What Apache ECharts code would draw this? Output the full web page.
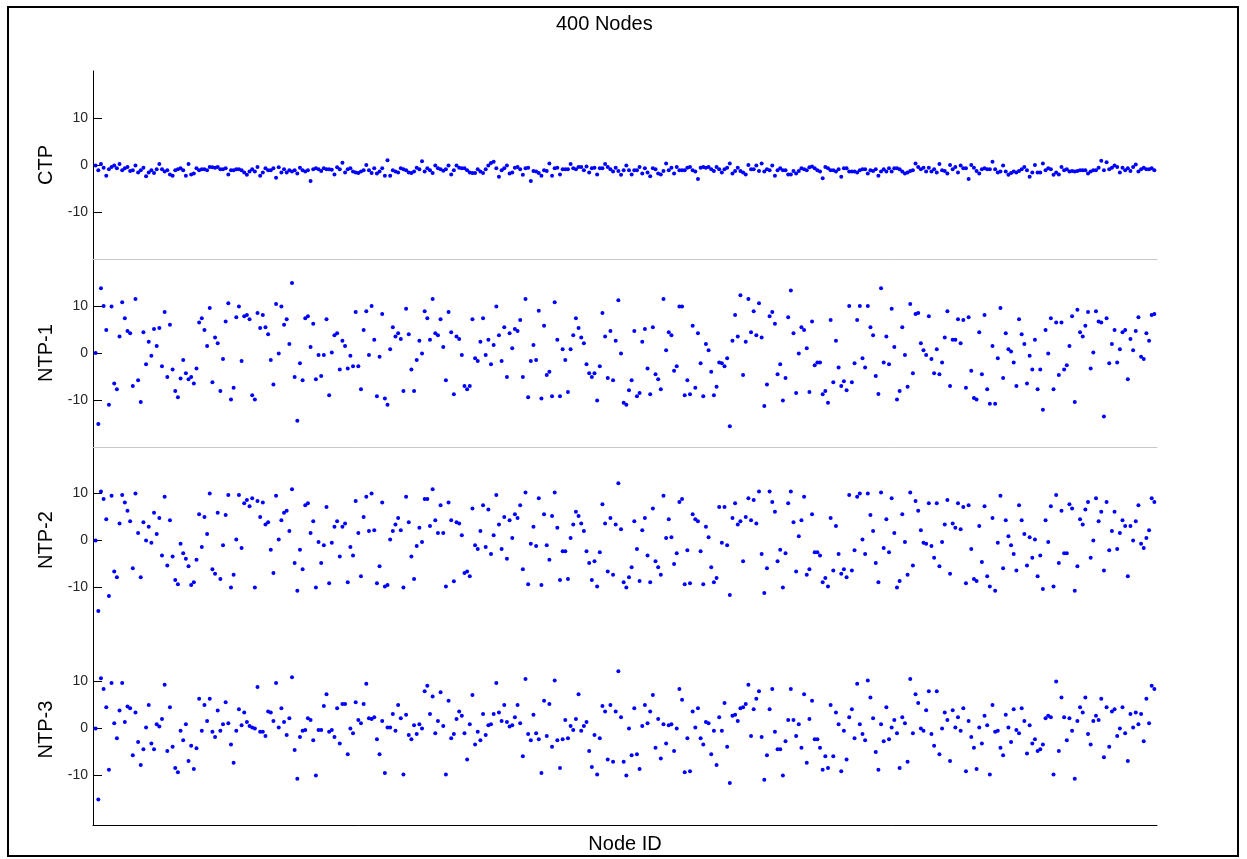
<!DOCTYPE html>
<html>
<head>
<meta charset="utf-8">
<title>400 Nodes</title>
<script src="https://cdn.jsdelivr.net/npm/echarts@6/dist/echarts.min.js"></script>
<style>
  html, body { margin: 0; padding: 0; background: #fff; }
  #chart { width: 1247px; height: 859px; }
</style>
</head>
<body>
<div id="chart"></div>
<script>
// panel labels and y ticks
const panelNames = ["CTP", "NTP-1", "NTP-2", "NTP-3"];
const yTickValues = [-10, 0, 10];

// one value per node id (1..400)
const ctp = [
  -0.1,-1.1,0.2,-0.6,-2.3,-0.9,-0.4,-0.1,-0.7,0.2,
  -1.1,-0.7,-0.4,-1.3,-1.1,-0.1,-1.6,-1.1,-0.6,-2.4,
  -1.6,-1.1,-1.7,-0.9,0.2,-0.9,-1.4,-1.1,-2.0,-2.3,
  -1.1,-0.9,-0.7,-1.1,-2.3,0.2,-2.0,-1.8,-0.7,-1.1,
  -0.9,-0.9,-1.1,-0.4,-0.5,-0.6,-0.4,-0.9,-0.9,-0.7,
  -2.0,-1.1,-1.1,-0.9,-0.9,-1.1,-1.6,-2.1,-1.4,-0.9,
  -1.4,-0.4,-2.3,-1.6,-0.7,-1.1,-1.1,-0.7,-2.7,-0.5,
  -1.6,-0.9,-1.6,-1.1,-1.4,-1.1,-1.8,-0.6,-1.1,-1.4,
  -1.1,-3.4,-0.9,-0.7,-0.9,-1.3,-0.7,-0.9,-0.9,-1.0,
  -2.0,-0.5,-0.9,0.5,-1.6,-0.9,-0.7,-1.4,-1.6,-1.7,
  -1.4,-1.1,0.0,-1.1,-1.7,-0.7,-1.8,-1.4,-0.7,-2.3,
  1.0,-2.3,-1.1,-1.4,-1.6,-0.7,-0.9,-1.1,-1.6,-1.7,
  -1.4,-0.6,-0.9,0.8,-1.4,-0.7,-1.1,-1.7,-0.1,-0.7,
  -0.9,-1.2,-0.9,-0.1,-2.0,-1.1,-0.1,-0.6,-0.7,-0.7,
  -1.1,-1.6,-1.7,-1.7,-0.9,-1.4,-1.7,-0.9,-0.1,0.4,
  0.7,-0.7,-2.5,-1.1,-0.7,-0.1,-1.8,-1.6,-0.6,-0.4,
  -0.9,-2.1,-0.7,-0.6,-3.4,-1.3,-1.4,-1.7,-2.3,-1.1,
  -1.3,0.3,-2.3,-0.7,-0.6,-2.0,-0.9,-0.9,-0.9,0.2,
  -0.7,-0.9,-0.4,-0.4,-1.1,-0.3,-1.6,-0.7,-0.6,-2.0,
  -0.7,-0.7,0.2,-0.4,-0.9,-1.4,-0.6,-1.3,-2.1,
  -1.1,-0.1,-1.1,-2.0,-1.1,-1.1,-0.4,-1.8,-0.7,-1.6,
  -2.4,-0.7,-0.9,-1.8,-2.0,-1.3,0.3,-1.1,-0.6,-1.8,
  -0.4,-1.1,-1.1,-1.1,-0.6,-0.4,-1.1,-1.4,-3.0,
  -0.6,-0.4,-0.6,-0.4,-0.9,-1.3,-0.4,-0.9,-1.6,-0.9,
  -0.6,0.3,-1.8,-1.3,-0.6,-1.3,-1.6,-2.0,0.0,-0.9,
  -0.9,-0.1,-1.3,0.3,-1.4,-0.9,-1.1,-0.1,-2.3,-1.1,
  -0.7,-1.1,-1.1,-2.0,-2.0,-1.3,-1.8,-1.3,-0.7,-0.9,
  -1.1,-0.5,-0.3,-0.7,-1.1,-1.4,-2.8,-0.4,-0.7,-1.1,
  -1.1,-1.4,-0.9,-2.5,-0.7,-0.7,-1.4,-1.4,-1.4,-1.6,
  -1.1,-0.9,-0.9,-1.8,-1.1,-1.3,-0.9,-2.3,-1.4,-0.9,
  -1.4,-0.7,-1.4,-0.7,-0.7,-0.9,-1.4,-1.8,-1.6,-1.3,
  -1.1,0.3,-0.4,-0.9,-0.6,-1.4,-0.6,-1.4,-0.9,-1.6,
  0.2,-1.1,-1.3,-1.8,0.0,-0.9,-0.4,-1.6,-0.1,-0.7,
  -0.7,-3.0,0.0,-0.6,-1.3,-1.8,-0.9,-0.7,-0.9,-0.9,
  0.7,-0.9,-1.6,-1.4,-0.1,-1.4,-2.1,-1.7,-1.4,-1.6,
  -1.3,-0.9,-0.4,-1.1,-2.5,-1.6,0.0,-1.6,-1.6,0.3,
  -1.1,-0.7,-0.9,-2.1,-1.6,-2.0,-0.4,-1.1,-0.9,-1.4,
  -1.3,-1.4,-1.3,-1.1,-1.1,-1.1,-1.8,-1.4,-1.1,-1.1,
  -0.6,0.9,-1.1,0.6,-0.9,-0.6,-0.1,-0.4,-1.6,-0.6,
  -1.1,-0.7,-1.3,-0.4,0.1,-1.4,-0.9,-0.6,-0.9,-0.9,
  -0.7,-1.1
];

const ntp1 = [
  0,-15.1,13.8,10,4.9,-11,9.9,-6.5,-7.7,3.5,
  10.8,7.4,4.7,4.2,-7,11.5,-5.8,-10.4,4.4,-2.4,
  2.4,-0.6,5.1,1.5,5.3,-2.8,8.7,-5.1,6,-3.5,
  -8.1,-9.4,-5.4,-1.5,-4.3,-5.6,-5.1,-6.5,-3.3,6.5,
  7.4,4.9,1.5,9.6,-6.2,3.3,2.1,-8.1,-1.3,6.7,
  10.6,-9.9,-7.4,7.6,9.9,-1.7,7.8,8.1,7.2,-9,
  -9.9,8.5,5.3,8.1,5.5,4,-1.5,-6.7,10.4,-0.1,
  9.9,6,7.2,1.9,14.9,-5.1,-14.4,-2.2,-5.8,7.4,
  7.8,1.3,6.2,-5.6,-0.4,-4.9,-0.4,7.2,-9,0.1,
  3.8,4.2,-3.5,2.6,1.5,-3.3,-0.6,-2.8,8.7,-2.8,
  -7.7,4.9,8.9,-0.4,10,2.8,-9.2,-0.8,8.3,-9.7,
  -11,0.8,5.5,3.5,4.2,3,-8.1,9.4,4,-3.5,
  -8.1,-1.5,2.6,-0.1,8.9,7.4,2.8,11.5,4.2,3.8,
  7.2,1.3,-5.8,8.7,4.4,
  -8.8,3.5,3,-0.4,-7,-7.7,-7,7.2,-1.1,-1.7,
  2.4,7.4,-0.4,2.8,-2.4,1.7,9.9,3.8,-1.7,5.5,
  -5.1,4.2,1,5.1,4.7,7,-5.1,11.5,-9.4,-1.7,
  1.7,-1.5,9,-9.7,5.8,-4.7,-4,-9.2,10.8,2.8,
  -9.2,0.8,-1.5,-8.3,0.8,3.8,7.4,5.3,3.3,2.1,
  -2.4,-4.3,-5.1,-4.3,-10.1,-2.8,8.5,3.5,-5.3,4.7,
  -5.8,2.6,11.2,-0.1,-10.6,-11,-7.9,-5.8,4.7,-9.2,
  -8.5,2.4,5.1,-3.3,-8.8,5.5,-4.5,-5.6,-7.7,11.5,
  0.6,4.4,3.8,-3.8,-2.8,9.9,9.9,-9,-5.8,-8.8,
  5.8,-7.4,4.2,-2.2,-9.2,1.9,0.6,-4,-9,-7.2,
  -2,-2.2,-2.8,-1.1,-15.6,2.6,8.1,3.5,12.3,-4.7,
  2.4,11.5,4.4,8.9,3.8,10.6,3.3,-11.3,-6.7,7.8,
  8.7,6.2,-4.5,-2.4,-10.1,-5.3,7.6,13.3,4.2,-8.5,
  -0.1,5.5,4.9,1,
  -8.3,6.7,-2.6,-2,-2,-8.8,-8.1,-10.6,7,-6.2,
  2.6,-3.1,-7,-6,-7.9,10,-6.2,-2.2,7,10,
  -1.1,-3.1,10,5.5,3.8,-4.9,-8.7,13.8,-2,3.5,
  -2.4,9.4,1.3,-9.9,-8.1,5.5,-0.4,-7.2,10.4,-4.3,
  8.3,8.5,2.1,0.6,-0.4,7.8,-1.3,-4.3,0.8,-4.5,
  -2,3.3,8.9,-7,2.8,2.8,7.2,2.1,7,-7.4,
  7.6,-3.8,-9.6,-9.9,4.4,-4.5,8.1,-7.7,-10.8,1.5,
  -10.8,-1.1,9.6,-5.3,4.2,0.8,0.3,-2,-7,7.2,
  4,1.9,-6.5,-0.6,-3.5,2.8,-7.7,-3.5,-12.1,4.9,
  -0.1,7.4,-7.7,6.5,-4.7,6.5,-3.5,-2.6,1.5,7.8,
  -10.4,9.2,4.4,3.5,5.8,8.7,-3.3,0.1,8.9,6.7,
  6.5,-13.5,7.4,-2.2,1.9,4.9,-2,0.8,4.4,4.9,
  -5.6,3,0.6,4.7,7.6,-0.8,-1.3,4.2,2.6,8.1,8.3
];

const ntp2 = [
  -0.1,-15.1,10.3,8.7,4.4,-11.9,9.4,-6.7,-7.9,3.5,
  9.6,8,6.2,4,-6,9.9,1.5,-7.9,3.8,-0.1,
  2.8,-0.6,5.8,1.3,4.7,-3.3,9.2,-5.4,4.2,-3.5,
  -8.5,-9.4,-0.8,-2.8,-4,-5.6,-9.6,-9,-4.2,5.5,
  -1.5,4.9,1.3,9.9,-6.2,-7.2,5.8,-8.3,-1.1,5.3,
  9.6,-10.1,-7.4,0.1,9.6,-1.7,7.8,8.5,7.2,8.9,
  -10.1,8.3,4.9,8,3.3,3.8,-2.1,-7,9.4,0.1,
  4.2,5.8,6.2,1.9,10.8,-4.9,-10.8,-2.1,-6.2,7.4,
  7.8,1.5,4,-10.1,-0.4,-4.9,-1.1,7,-9.2,-0.6,
  2.8,4,-3.5,2.8,3.5,-9,-1.5,-3.3,8.3,1.5,
  -7.7,4.9,9.2,1.9,9.9,2.1,-9.2,-5.6,8,-9.9,
  -9.6,0.1,1.9,3.3,4.7,2.1,-10.1,9.2,3.8,-3.5,
  -8.3,-1.3,2.6,-0.4,8.7,8.7,3,10.8,4.2,1.5,
  7.4,1.5,-9.9,8,4.2,
  -8.8,3.8,3.5,1,-7,-6.7,-7.7,6.7,-1.1,-1.9,
  1.9,7.4,-1.5,6.5,-3,1,9.6,3.3,-1.9,4.9,
  -4,4.2,0.4,5.5,4.7,7.4,-6.2,10.1,-9.4,-0.8,
  2.8,-1.3,8.9,-9.6,5.5,-1.1,-4.2,5.1,10.1,2.6,
  -8.5,-2.4,-2.4,-8.3,0.4,3.3,6,5.1,3.5,1.9,
  -2.4,-4.9,-8.5,-4.5,-9.9,-2.6,7.6,3.5,-6.7,4.7,
  -7.4,3.3,12.1,2.3,-9,-10.1,-7.9,-5.8,4,-1.9,
  -8.7,2.1,4.7,-3.3,-9,6.7,-4.5,-5.8,-7.4,9.4,
  0.4,4.4,0.6,-5.1,-2.8,8.1,8.7,-9.4,-2.2,-9.2,
  5.5,4.4,4,-2.4,-9.4,2.8,0.6,-5.8,-9,-8.1,
  7,-0.6,7,-1.1,-11.7,4.7,7.8,3.3,4,-4.5,
  4.9,8.9,4.2,8.5,3.5,10.3,-3,-11.3,-6,10.3,
  8.1,6,-4.5,-2.1,-10.1,-2.8,7.8,10.3,3.8,-6.7,
  0.8,4.2,9.2,-7.4,
  -6.2,5.5,-2.6,-2.6,-3.3,-9,-8.1,-9.9,4.7,-6.5,
  3,-3,-7.2,-6.2,-7.9,9.6,-6.5,-2.2,9.2,9.9,
  0.1,-3,9.9,5.3,1.9,-4.9,-9,10.1,-1.7,4.4,
  -2.6,8.9,1.5,-10.1,-8.7,5.5,-0.4,-7.4,10.1,-5.4,
  8.3,6.2,2.1,-0.6,-0.8,7.8,-1.3,-3.8,7.8,-5.6,
  -0.4,3.3,8.5,-7.2,3.5,2.6,7.8,2.3,7,-9.2,
  7.4,-1.9,-8.3,-8.7,3,-4.7,7.2,-7.7,-9.9,4.7,
  -10.8,-0.6,9.4,-6,4.2,0.8,-1.1,-3,-6.5,7.4,
  4.2,1.3,-5.4,0.6,-3.8,0.1,-7.7,-3.3,-10.4,4.2,
  -0.4,7.2,-9.9,9.6,-4.9,6.2,-2.8,-2.8,7.6,6.7,
  -10.8,-5.6,4.4,3.3,6.5,8.1,-3.8,-0.1,8.9,4,
  6,-6.5,8.1,-2.2,1.9,6,-1.9,1.5,4.2,3,
  -7.7,3,-0.1,4,7.4,-0.8,-1.7,0.4,2.1,8.9,8.1
];

const ntp3 = [
  -0.1,-15.2,10.6,8.3,4.4,-8.9,9.6,1,-2.2,3.7,
  9.6,1.3,4.6,4.2,-5.8,3.3,-3,-7.9,-4.5,0.1,
  4.9,-3.3,-4.5,0.8,0.3,1.9,9.2,-4.9,4.4,-4,
  -8.5,-9.4,-0.6,-2.6,0.8,-7,-3.8,-8.7,-4.3,6.2,
  -0.6,4.9,1.5,6.2,-0.8,-1.9,3.7,-0.6,0.8,5.5,
  1,-3.5,-7.4,-0.6,4,0.6,3.3,1.3,0.4,0.1,
  -0.1,8.7,-0.8,-0.8,-1.7,3.5,3.3,1.5,9.6,0.1,
  4.2,1.3,-1.5,2.1,10.8,-4.7,-10.8,-1.9,-0.6,-0.4,
  2.1,1.7,-2.6,-10.1,-0.4,-0.4,4.7,7.2,-0.8,-0.4,
  -1.9,4.2,-3.3,5.1,5.1,-5.6,-0.1,-1.1,5.5,1.7,
  1,5.1,9.4,2.1,1.9,2.3,-2.4,-5.6,1.5,-9.6,
  0.1,0.1,3,-0.6,4.9,2.1,-9.9,2.8,-1.5,-2.4,
  0.6,-1.3,0.8,-0.1,7.8,9,3,6.7,-1.1,1.5,
  7.6,0.4,-9.9,5.8,-2.2,
  -1.3,1.9,3.5,2.6,-1.1,-6.7,0.8,7,-3.5,-0.8,
  -2.6,3,-1.5,0.6,0.8,3,9.6,3.3,1.5,4.9,
  1.3,0.3,0.6,2.3,4.9,1,-6,10.4,-1.3,-2.6,
  2.8,-1.1,-2.4,-9.6,5.8,-1.7,5.1,-4,10.1,-2.6,
  -8.5,-2.4,1.7,-2.2,0.4,-0.4,1.9,7.2,-0.6,0.4,
  1.3,-4.9,-8.3,-1.5,-9.9,-2.2,4.7,3.5,-6.7,4.9,
  -7.2,3.5,12.1,2.3,-7.2,-10.1,-0.1,-5.8,4.2,-5.6,
  -8.7,0.4,4.9,1,3.5,7,-4.2,1.9,-6.5,0.8,
  -3.3,0.6,0.8,-4.9,-0.1,8.3,6,-9.4,-2.2,-9.2,
  3.5,0.1,4.2,-2.2,-3.5,1.3,1,-5.6,-0.6,-7.9,
  2.3,-0.6,5.3,-4,-11.7,2.6,2.8,1.5,4.2,4.4,
  5.1,9.2,-1.7,4,6.2,7.8,-1.9,-11,-5.8,4,
  8.3,-0.8,-4.5,-4.5,-10.1,-2.8,1.7,8.3,1.7,-1.7,
  0.8,-4.2,7.2,-7.4,
  1.9,5.8,-2.4,-2.4,-4.2,-8.9,-6,-8.5,4.9,-6,
  3.3,0.8,-9.2,-0.6,-6.7,2.3,4,-2.2,9.4,0.8,
  -1.3,-2.6,10.1,6.5,2.1,-5.1,-8.9,0.8,-2.8,4.4,
  -2.4,0.1,1.7,-1.1,-8.5,2.3,1,-7.2,10.4,-1.1,
  7.2,5.3,-0.1,-0.6,3.8,7.8,-1.3,-3.8,7.8,-5.6,
  -0.1,3.3,1.7,-7,3.8,0.1,2.3,-0.6,4.2,-9.2,
  1.5,-1.9,-4.2,-8.7,0.1,-3.3,2.6,0.6,-9.9,4.9,
  -0.8,-0.6,-4.2,-5.8,2.8,0.1,-3,4,-0.4,-1.1,
  4.2,1.5,-5.4,0.6,-3.3,-2.4,-4.9,-4.5,-3.5,2.1,
  2.6,2.3,-9.9,9.9,-4.9,6.5,2.3,-2.6,2.1,-0.6,
  -10.8,1.5,4.4,3.3,6.5,-1.3,-3.5,1.5,2.6,1.7,
  6.2,-6.2,4.4,-4,3.5,4,-1.7,-0.1,4.4,-1.1,
  -7,3,0.1,3.3,0.8,3,-2.8,6.2,1,9,8.3
];

const panels = [ctp, ntp1, ntp2, ntp3];
const font = '"Liberation Sans", Arial, sans-serif';

// panel boxes (px), last one a bit taller like the original
const gridTops = [71, 259, 446, 634];
const gridHeights = [188, 188, 188, 191];
const yMins = [-20, -20, -20, -20.64];

const grids = [], xAxes = [], yAxes = [], series = [];
panels.forEach((vals, i) => {
  grids.push({ left: 93, width: 1064, top: gridTops[i], height: gridHeights[i] });
  const last = i === panels.length - 1;
  xAxes.push({
    gridIndex: i,
    type: "value",
    min: 0,
    max: 401,
    axisLine: {
      show: i !== 2,
      onZero: false,
      lineStyle: { color: last ? "#000" : "#c8c8c8", width: 1 }
    },
    axisTick: { show: false },
    axisLabel: { show: false },
    splitLine: { show: false },
    name: last ? "Node ID" : "",
    nameLocation: "middle",
    nameGap: 9,
    nameTextStyle: { fontFamily: font, fontSize: 20, color: "#000" }
  });
  yAxes.push({
    gridIndex: i,
    type: "value",
    min: yMins[i],
    max: 20,
    name: panelNames[i],
    nameLocation: "middle",
    nameGap: 32,
    nameTextStyle: { fontFamily: font, fontSize: 20, color: "#000" },
    axisLine: { show: true, onZero: false, lineStyle: { color: "#000", width: 1 } },
    axisTick: { show: true, inside: true, length: 9, customValues: yTickValues, lineStyle: { color: "#000" } },
    axisLabel: { customValues: yTickValues, fontFamily: font, fontSize: 14, color: "#262626", margin: 5 },
    splitLine: { show: false }
  });
  series.push({
    type: "scatter",
    xAxisIndex: i,
    yAxisIndex: i,
    symbol: "circle",
    symbolSize: 4,
    itemStyle: { color: "#0000ff", opacity: 1 },
    silent: true,
    data: vals.map((v, k) => [k + 1, v])
  });
});

const chart = echarts.init(document.getElementById("chart"));
chart.setOption({
  animation: false,
  backgroundColor: "#fff",
  title: {
    text: "400 Nodes",
    left: 551,
    top: 9,
    textStyle: { fontFamily: font, fontSize: 20, fontWeight: "normal", color: "#000" }
  },
  graphic: [{
    type: "rect",
    shape: { x: 8, y: 7, width: 1230, height: 849 },
    style: { fill: null, stroke: "#000", lineWidth: 2 },
    silent: true
  }],
  grid: grids,
  xAxis: xAxes,
  yAxis: yAxes,
  series: series
});
</script>
</body>
</html>
